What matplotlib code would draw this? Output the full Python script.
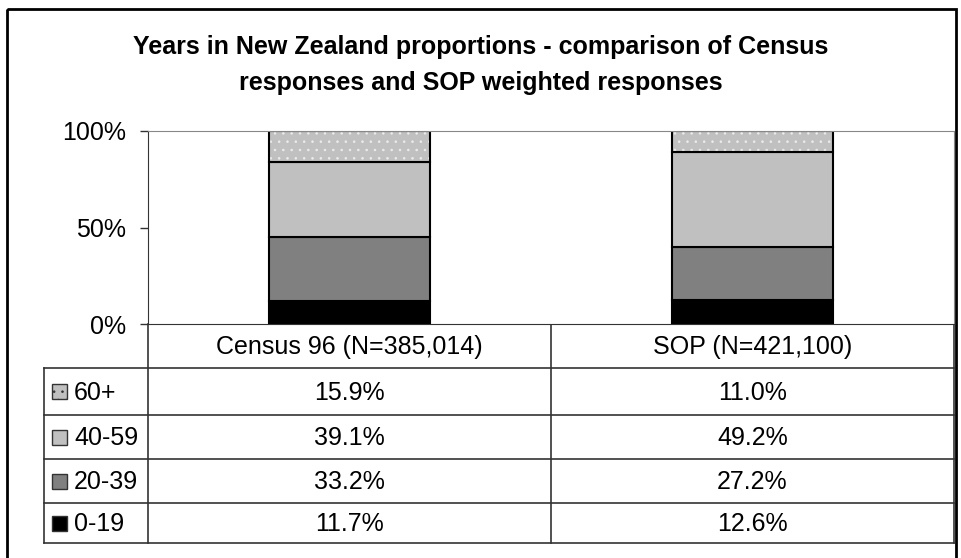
import matplotlib.pyplot as plt
from matplotlib.patches import Rectangle
import numpy as np

plt.rcParams['font.family'] = ['Liberation Sans', 'DejaVu Sans']
plt.rcParams['hatch.linewidth'] = 0.6

categories = ['Census 96 (N=385,014)', 'SOP (N=421,100)']
groups = ['0-19', '20-39', '40-59', '60+']
census = [11.7, 33.2, 39.1, 15.9]
sop = [12.6, 27.2, 49.2, 11.0]
colors = ['#000000', '#808080', '#c0c0c0', '#c0c0c0']
hatches = [None, None, None, '..']

W, H = 961, 558
fig = plt.figure(figsize=(W / 100, H / 100), dpi=100)
FS = 18


def fx(px):
    return px / W


def fy(py):
    return 1 - py / H


# plot area
left, right, top, bottom = 148, 954, 131, 324
ax = fig.add_axes([fx(left), fy(bottom), fx(right - left), (bottom - top) / H])
x = np.arange(len(categories))
vals = np.array([census, sop])
totals = vals.sum(axis=1)
base = np.zeros(len(categories))
for i, g in enumerate(groups):
    h = vals[:, i] / totals * 100
    if hatches[i]:
        ax.bar(x, h, 0.4, bottom=base, color=colors[i], hatch=hatches[i],
               edgecolor='#ececec', linewidth=0)
        ax.bar(x, h, 0.4, bottom=base, fill=False, edgecolor='black', linewidth=1.5)
    else:
        ax.bar(x, h, 0.4, bottom=base, color=colors[i], edgecolor='black', linewidth=1.5)
    base += h

ax.set_xlim(-0.5, 1.5)
ax.set_ylim(0, 100)
ax.set_yticks([0, 50, 100])
ax.set_yticklabels(['0%', '50%', '100%'], fontsize=FS)
ax.tick_params(axis='y', length=6, width=1, pad=10, color='#333333')
ax.set_xticks([])
for s in ['top', 'right']:
    ax.spines[s].set_color('#888888')
ax.spines['left'].set_color('#333333')
ax.spines['bottom'].set_color('#333333')

# overlay for table, title and border
ov = fig.add_axes([0, 0, 1, 1], zorder=-1)
ov.set_xlim(0, W)
ov.set_ylim(H, 0)
ov.axis('off')

ov.add_patch(Rectangle((7, 9), 949, 560, fill=False, edgecolor='black', linewidth=2))

ov.text(481, 47, 'Years in New Zealand proportions - comparison of Census',
        ha='center', va='center', fontsize=FS, fontweight='bold')
ov.text(481, 83, 'responses and SOP weighted responses',
        ha='center', va='center', fontsize=FS, fontweight='bold')

rows = [324, 368, 415, 459, 503, 543]
tab_left, col_div = 44, 551
lc = '#333333'
for y in rows[1:]:
    ov.plot([tab_left, right], [y, y], color=lc, lw=1.2)
ov.plot([tab_left, tab_left], [rows[1], rows[-1]], color=lc, lw=1.2)
ov.plot([left, left], [bottom, rows[-1]], color=lc, lw=1.2)
ov.plot([col_div, col_div], [bottom, rows[-1]], color=lc, lw=1.2)
ov.plot([right, right], [bottom, rows[-1]], color=lc, lw=1.2)

centers = [(left + col_div) / 2, (col_div + right) / 2]
for c, name in zip(centers, categories):
    ov.text(c, (rows[0] + rows[1]) / 2 + 1, name, ha='center', va='center', fontsize=FS)

# table rows in reverse order (60+ on top)
order = list(range(len(groups)))[::-1]
for r, gi in enumerate(order):
    yc = (rows[r + 1] + rows[r + 2]) / 2
    sw = Rectangle((52, yc - 7.5), 15, 15, facecolor=colors[gi], edgecolor='#333333',
                   linewidth=1, hatch=hatches[gi])
    ov.add_patch(sw)
    ov.text(74, yc + 1, groups[gi], ha='left', va='center', fontsize=FS)
    for c, series in zip(centers, [census, sop]):
        ov.text(c, yc + 1, f'{series[gi]:.1f}%', ha='center', va='center', fontsize=FS)

fig.savefig('out.png', dpi=100)
